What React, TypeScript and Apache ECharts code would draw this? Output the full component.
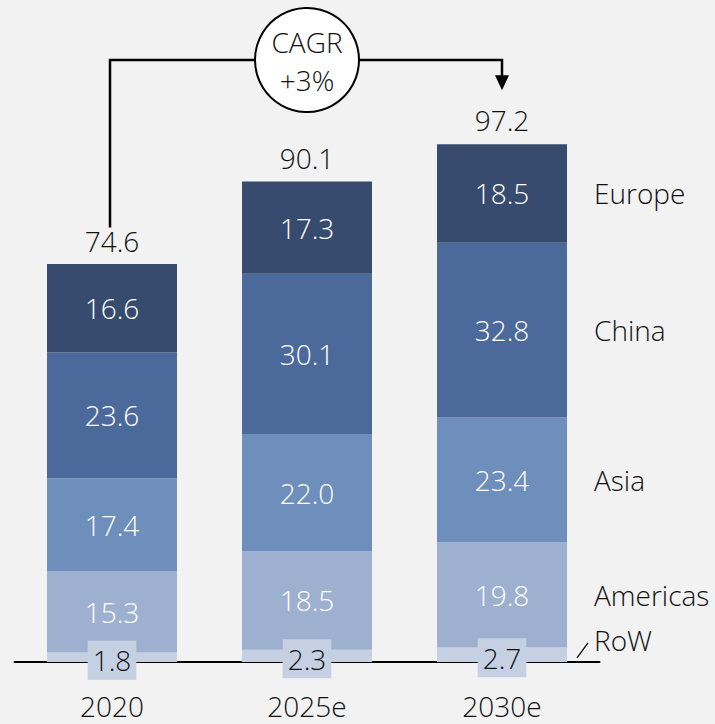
import React, { useEffect, useRef } from "react";
import * as echarts from "echarts";

const categories = ["2020", "2025e", "2030e"];
const rowValues = [1.8, 2.3, 2.7];
const americasValues = [15.3, 18.5, 19.8];
const asiaValues = [17.4, 22.0, 23.4];
const chinaValues = [23.6, 30.1, 32.8];
const europeValues = [16.6, 17.3, 18.5];
const totals = [74.6, 90.1, 97.2];
const regionNames = ["RoW", "Americas", "Asia", "China", "Europe"];
const cagrLines = ["CAGR", "+3%"];

const FONT = "'Open Sans', 'Noto Sans', sans-serif";
const FS = 28;
const COLORS = ["#c5d1e3", "#9db0cf", "#6e8ebb", "#4b6a9b", "#364b6d"];
const TEXT = "#111111";

export default function App() {
  const ref = useRef<HTMLDivElement>(null);
  useEffect(() => {
    document.body.style.margin = "0";
    const chart = echarts.init(ref.current!, undefined, { renderer: "svg" });
    const seriesData = [rowValues, americasValues, asiaValues, chinaValues, europeValues];
    const series: any[] = seriesData.map((vals, i) => ({
      name: regionNames[i],
      type: "bar",
      stack: "total",
      barWidth: 130,
      data: vals,
      itemStyle: { color: COLORS[i] },
      label:
        i === 0
          ? {
              show: true,
              position: "inside",
              offset: [0, 3],
              color: TEXT,
              fontSize: FS,
              fontFamily: FONT,
              fontWeight: 300,
              backgroundColor: COLORS[0],
              padding: [5, 5],
              lineHeight: 29,
              formatter: (p: any) => p.value.toFixed(1),
            }
          : {
              show: true,
              position: "inside",
              color: "#ffffff",
              fontSize: FS,
              fontFamily: FONT,
              fontWeight: 300,
              formatter: (p: any) => p.value.toFixed(1),
            },
      z: 2,
    }));
    series.push({
      name: "Total",
      type: "bar",
      barWidth: 130,
      barGap: "-100%",
      data: totals,
      silent: true,
      itemStyle: { color: "rgba(0,0,0,0)" },
      label: {
        show: true,
        position: "top",
        distance: 10,
        color: TEXT,
        fontSize: FS,
        fontFamily: FONT,
        fontWeight: 300,
        formatter: (p: any) => p.value.toFixed(1),
      },
      z: 3,
    });

    chart.setOption({
      animation: false,
      backgroundColor: "#f2f2f2",
      grid: { left: 14.5, width: 585, top: 129.3, height: 532.7 },
      xAxis: {
        type: "category",
        data: categories,
        axisTick: { show: false },
        axisLine: { show: true, lineStyle: { color: "#000", width: 2 } },
        axisLabel: { color: TEXT, fontSize: FS, fontFamily: FONT, fontWeight: 300, margin: 31, lineHeight: 26 },
        z: 1,
      },
      yAxis: { type: "value", min: 0, max: 100, show: false, splitLine: { show: false } },
      series,
    });

    const px = (ci: number, v: number) => chart.convertToPixel({ gridIndex: 0 }, [ci, v]) as number[];
    const p0 = px(0, totals[0]);
    const p1 = px(1, 0);
    const p2 = px(2, totals[2]);
    const lineY = 60;
    const graphics: any[] = [
      {
        type: "polyline",
        shape: { points: [[p0[0] - 2, p0[1] - 37], [p0[0] - 2, lineY], [p2[0], lineY], [p2[0], p2[1] - 68]] },
        style: { stroke: "#000", lineWidth: 2.5, fill: null },
        z: 10,
      },
      {
        type: "polygon",
        shape: { points: [[p2[0] - 7, p2[1] - 69], [p2[0] + 7, p2[1] - 69], [p2[0], p2[1] - 54]] },
        style: { fill: "#000" },
        z: 10,
      },
      {
        type: "circle",
        shape: { cx: p1[0], cy: lineY, r: 52 },
        style: { fill: "#ffffff", stroke: "#000", lineWidth: 2 },
        z: 11,
      },
      {
        type: "text",
        x: p1[0],
        y: 42,
        style: { text: cagrLines[0], fill: TEXT, fontSize: FS, fontFamily: FONT, fontWeight: 300, align: "center", verticalAlign: "middle" },
        z: 12,
      },
      {
        type: "text",
        x: p1[0],
        y: 80,
        style: { text: cagrLines[1], fill: TEXT, fontSize: FS, fontFamily: FONT, fontWeight: 300, align: "center", verticalAlign: "middle" },
        z: 12,
      },
    ];
    let cum = 0;
    seriesData.forEach((vals, i) => {
      const v = vals[2];
      const mid = px(2, cum + v / 2);
      cum += v;
      const xr = mid[0] + 65;
      const y = i === 0 ? mid[1] - 15 : mid[1];
      graphics.push({
        type: "text",
        x: xr + 27,
        y,
        style: { text: regionNames[i], fill: TEXT, fontSize: FS, fontFamily: FONT, fontWeight: 300, align: "left", verticalAlign: "middle" },
        z: 12,
      });
      if (i === 0) {
        graphics.push({
          type: "line",
          shape: { x1: xr + 10, y1: mid[1] + 3, x2: xr + 21, y2: mid[1] - 12 },
          style: { stroke: "#000", lineWidth: 1.2 },
          z: 12,
        });
      }
    });
    chart.setOption({ graphic: graphics });

    return () => chart.dispose();
  }, []);
  return <div ref={ref} style={{ width: 715, height: 724, position: "fixed", left: 0, top: 0 }} />;
}
